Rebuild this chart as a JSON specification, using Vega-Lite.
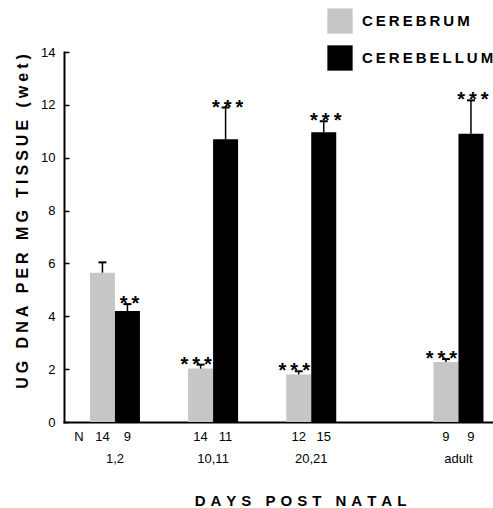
{
  "$schema": "https://vega.github.io/schema/vega-lite/v6.json",
  "width": 429,
  "height": 370,
  "autosize": {"type": "none"},
  "padding": {"left": 64, "top": 52, "right": 0, "bottom": 86},
  "background": "white",
  "config": {
    "view": {"stroke": null},
    "font": "Liberation Sans",
    "text": {"font": "Liberation Sans", "color": "black"}
  },
  "data": {
    "values": [
      {"g": 1, "days": "1,2", "tissue": "CEREBRUM", "value": 5.65, "err": 6.04, "stars": "", "n": "14"},
      {"g": 1, "days": "1,2", "tissue": "CEREBELLUM", "value": 4.2, "err": 4.46, "stars": "*\u2009*", "n": "9"},
      {"g": 2, "days": "10,11", "tissue": "CEREBRUM", "value": 2.02, "err": 2.17, "stars": "*\u2009*\u2009*", "n": "14"},
      {"g": 2, "days": "10,11", "tissue": "CEREBELLUM", "value": 10.7, "err": 11.9, "stars": "*\u2009*\u2009*", "n": "11"},
      {"g": 3, "days": "20,21", "tissue": "CEREBRUM", "value": 1.8, "err": 1.92, "stars": "*\u2009*\u2009*", "n": "12"},
      {"g": 3, "days": "20,21", "tissue": "CEREBELLUM", "value": 10.96, "err": 11.38, "stars": "*\u2009*\u2009*", "n": "15"},
      {"g": 4.5, "days": "adult", "tissue": "CEREBRUM", "value": 2.27, "err": 2.38, "stars": "*\u2009*\u2009*", "n": "9"},
      {"g": 4.5, "days": "adult", "tissue": "CEREBELLUM", "value": 10.91, "err": 12.17, "stars": "*\u2009*\u2009*", "n": "9"}
    ]
  },
  "encoding": {
    "x": {
      "field": "g", "type": "quantitative",
      "scale": {"domain": [0.532, 4.801], "nice": false, "zero": false},
      "axis": {
        "title": "D\u2004A\u2004Y\u2004S\u2004 \u2004P\u2004O\u2004S\u2004T\u2004 \u2004N\u2004A\u2004T\u2004A\u2004L",
        "labels": false, "ticks": false, "grid": false,
        "domainWidth": 2, "domainColor": "black", "domainCap": "square",
        "titleFont": "Liberation Sans", "titleFontWeight": "bold", "titleFontSize": 15,
        "titleColor": "black",
        "titleX": 236, "titleY": 78, "titleBaseline": "middle"
      }
    },
    "y": {
      "field": "value", "type": "quantitative",
      "scale": {"domain": [0, 14], "nice": false},
      "axis": {
        "values": [0, 2, 4, 6, 8, 10, 12, 14],
        "tickSize": -5, "tickWidth": 1.5, "tickColor": "black",
        "domainWidth": 2, "domainColor": "black", "domainCap": "square",
        "grid": false,
        "labelFont": "Liberation Sans", "labelFontSize": 13, "labelColor": "black",
        "labelPadding": 14,
        "title": "U\u2005G\u2005 \u2005D\u2005N\u2005A\u2005 \u2005P\u2005E\u2005R\u2005 \u2005M\u2005G\u2005 \u2005T\u2005I\u2005S\u2005S\u2005U\u2005E\u2005 \u2005(\u2005w\u2005e\u2005t\u2005)",
        "titleFont": "Liberation Sans", "titleFontWeight": "bold", "titleFontSize": 16,
        "titleColor": "black",
        "titleX": -42, "titleY": 169, "titleBaseline": "middle", "titleAngle": 270
      }
    }
  },
  "layer": [
    {
      "transform": [{"filter": "datum.tissue == 'CEREBRUM'"}],
      "mark": {"type": "bar", "size": 25, "xOffset": -12.5},
      "encoding": {
        "color": {
          "field": "tissue", "type": "nominal",
          "scale": {"domain": ["CEREBRUM", "CEREBELLUM"], "range": ["#c6c6c6", "#000000"]},
          "legend": {
            "orient": "none", "legendX": 263, "legendY": -44,
            "title": null, "symbolType": "square", "symbolSize": 640,
            "symbolStrokeWidth": 0, "rowPadding": 11, "labelOffset": 9,
            "labelFont": "Liberation Sans", "labelFontSize": 15, "labelFontWeight": "bold",
            "labelColor": "black", "labelLimit": 300,
            "labelExpr": "datum.label == 'CEREBRUM' ? 'C\u2009E\u2009R\u2009E\u2009B\u2009R\u2009U\u2009M' : 'C\u2009E\u2009R\u2009E\u2009B\u2009E\u2009L\u2009L\u2009U\u2009M'"
          }
        }
      }
    },
    {
      "transform": [{"filter": "datum.tissue == 'CEREBELLUM'"}],
      "mark": {"type": "bar", "size": 25, "xOffset": 12.5},
      "encoding": {
        "color": {"field": "tissue", "type": "nominal"}
      }
    },
    {
      "transform": [{"filter": "datum.tissue == 'CEREBRUM'"}],
      "mark": {"type": "rule", "xOffset": -12.5, "color": "black", "strokeWidth": 1.5},
      "encoding": {"y2": {"field": "err"}}
    },
    {
      "transform": [{"filter": "datum.tissue == 'CEREBELLUM'"}],
      "mark": {"type": "rule", "xOffset": 12.5, "color": "black", "strokeWidth": 1.5},
      "encoding": {"y2": {"field": "err"}}
    },
    {
      "transform": [{"filter": "datum.tissue == 'CEREBRUM'"}],
      "mark": {"type": "tick", "orient": "horizontal", "size": 8, "thickness": 2, "xOffset": -12.5, "color": "black", "opacity": 1},
      "encoding": {"y": {"field": "err", "type": "quantitative"}}
    },
    {
      "transform": [{"filter": "datum.tissue == 'CEREBELLUM'"}],
      "mark": {"type": "tick", "orient": "horizontal", "size": 8, "thickness": 2, "xOffset": 12.5, "color": "black", "opacity": 1},
      "encoding": {"y": {"field": "err", "type": "quantitative"}}
    },
    {
      "transform": [{"filter": "datum.tissue == 'CEREBRUM'"}],
      "mark": {"type": "text", "xOffset": -17, "dy": 6, "baseline": "alphabetic", "fontSize": 20, "fontWeight": "bold"},
      "encoding": {"y": {"field": "err", "type": "quantitative"}, "text": {"field": "stars"}}
    },
    {
      "transform": [{"filter": "datum.tissue == 'CEREBELLUM'"}],
      "mark": {"type": "text", "xOffset": 14.5, "dy": 6, "baseline": "alphabetic", "fontSize": 20, "fontWeight": "bold"},
      "encoding": {"y": {"field": "err", "type": "quantitative"}, "text": {"field": "stars"}}
    },
    {
      "transform": [{"filter": "datum.tissue == 'CEREBRUM'"}],
      "mark": {"type": "text", "xOffset": -12.5, "dy": 9, "baseline": "top", "fontSize": 13},
      "encoding": {"y": {"datum": 0, "type": "quantitative"}, "text": {"field": "n"}}
    },
    {
      "transform": [{"filter": "datum.tissue == 'CEREBELLUM'"}],
      "mark": {"type": "text", "xOffset": 12.5, "dy": 9, "baseline": "top", "fontSize": 13},
      "encoding": {"y": {"datum": 0, "type": "quantitative"}, "text": {"field": "n"}}
    },
    {
      "transform": [{"filter": "datum.tissue == 'CEREBRUM'"}],
      "mark": {"type": "text", "dy": 31, "baseline": "top", "fontSize": 13},
      "encoding": {"y": {"datum": 0, "type": "quantitative"}, "text": {"field": "days"}}
    },
    {
      "transform": [{"filter": "datum.tissue == 'CEREBRUM' && datum.g == 1"}],
      "mark": {"type": "text", "xOffset": -36, "dy": 9, "baseline": "top", "fontSize": 13},
      "encoding": {
        "y": {"datum": 0, "type": "quantitative"},
        "text": {"value": "N"}
      }
    }
  ]
}
